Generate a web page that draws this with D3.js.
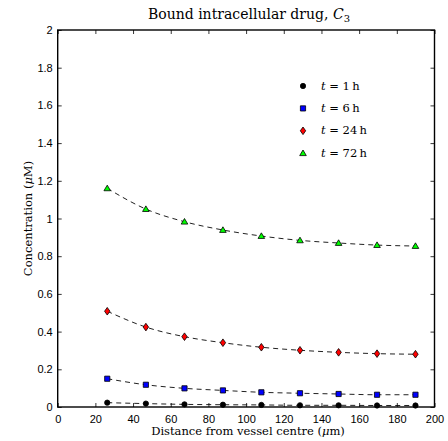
<!DOCTYPE html>
<html>
<head>
<meta charset="utf-8">
<script src="https://cdn.jsdelivr.net/npm/d3@7"></script>
<style>
  html, body { margin: 0; padding: 0; background: #fff; }
  svg { display: block; }
</style>
</head>
<body>
<svg id="chart" width="448" height="441"></svg>
<script>
// Radial distance from the vessel centre (µm)
const distance = [26.3, 46.8, 67.3, 87.7, 108.1, 128.6, 149.1, 169.5, 189.9];

// Bound intracellular drug concentration (µM) at each time point
const c1h  = [0.023, 0.018, 0.014, 0.012, 0.011, 0.009, 0.009, 0.008, 0.008];
const c6h  = [0.150, 0.118, 0.099, 0.088, 0.078, 0.073, 0.069, 0.065, 0.065];
const c24h = [0.508, 0.424, 0.373, 0.341, 0.317, 0.301, 0.290, 0.283, 0.280];
const c72h = [1.160, 1.050, 0.983, 0.939, 0.907, 0.884, 0.870, 0.859, 0.854];

const seriesLabels = ["1", "6", "24", "72"];
const xTicks = [0, 20, 40, 60, 80, 100, 120, 140, 160, 180, 200];
const yTicks = [0, 0.2, 0.4, 0.6, 0.8, 1, 1.2, 1.4, 1.6, 1.8, 2];

const series = [
  { label: seriesLabels[0], values: c1h,  marker: "circle",   fill: "#000000" },
  { label: seriesLabels[1], values: c6h,  marker: "square",   fill: "#0000ff" },
  { label: seriesLabels[2], values: c24h, marker: "diamond",  fill: "#ff0000" },
  { label: seriesLabels[3], values: c72h, marker: "triangle", fill: "#00ff00" }
];

const svg = d3.select("#chart");
const plotLeft = 57.7, plotRight = 434.5, plotTop = 30, plotBottom = 407;

const x = d3.scaleLinear().domain([0, 200]).range([plotLeft, plotRight]);
const y = d3.scaleLinear().domain([0, 2]).range([plotBottom, plotTop]);

const sansFont = "'Liberation Sans', Arial, sans-serif";
const serifFont = "'DejaVu Serif', 'Liberation Serif', serif";

// Marker path generators (small, centred at origin)
function markerPath(kind) {
  switch (kind) {
    case "circle":   return d3.symbol(d3.symbolCircle, 22)();
    case "square":   return "M-2.6,-2.6H2.6V2.6H-2.6Z";
    case "diamond":  return "M0,-3.8L2.7,0L0,3.8L-2.7,0Z";
    case "triangle": return "M0,-3.2L3.3,2.4H-3.3Z";
  }
}

// Dashed fitted curves
const line = d3.line()
  .x((d, i) => x(distance[i]))
  .y(d => y(d))
  .curve(d3.curveMonotoneX);

const plot = svg.append("g");
series.forEach(s => {
  plot.append("path")
    .attr("d", line(s.values))
    .attr("fill", "none")
    .attr("stroke", "#222")
    .attr("stroke-width", 1)
    .attr("stroke-dasharray", "5,4");
});

// Data markers
series.forEach(s => {
  plot.selectAll(null)
    .data(s.values)
    .enter()
    .append("path")
    .attr("d", markerPath(s.marker))
    .attr("transform", (d, i) => `translate(${x(distance[i])},${y(d)})`)
    .attr("fill", s.fill)
    .attr("stroke", "#000")
    .attr("stroke-width", 0.8);
});

// Axes with inward ticks on all four sides
const tickLen = 4;
const fmtY = d => (d === 0 ? "0" : d3.format("~g")(d));

const xAxisBottom = d3.axisBottom(x).tickValues(xTicks).tickSize(-tickLen).tickPadding(8).tickFormat(d3.format("d"));
const xAxisTop = d3.axisTop(x).tickValues(xTicks).tickSize(-tickLen).tickFormat("");
const yAxisLeft = d3.axisLeft(y).tickValues(yTicks).tickSize(-tickLen).tickPadding(5).tickFormat(fmtY);
const yAxisRight = d3.axisRight(y).tickValues(yTicks).tickSize(-tickLen).tickFormat("");

function styleAxis(g) {
  g.select(".domain").remove();
  g.selectAll(".tick line").attr("stroke", "#000").attr("stroke-width", 0.8);
  g.selectAll(".tick text").attr("font-family", sansFont).attr("font-size", 11).attr("fill", "#000");
}

svg.append("g").attr("transform", `translate(0,${plotBottom})`).call(xAxisBottom).call(styleAxis);
svg.append("g").attr("transform", `translate(0,${plotTop})`).call(xAxisTop).call(styleAxis);
svg.append("g").attr("transform", `translate(${plotLeft},0)`).call(yAxisLeft).call(styleAxis);
svg.append("g").attr("transform", `translate(${plotRight},0)`).call(yAxisRight).call(styleAxis);

// Frame
svg.append("rect")
  .attr("x", plotLeft).attr("y", plotTop)
  .attr("width", plotRight - plotLeft).attr("height", plotBottom - plotTop)
  .attr("fill", "none").attr("stroke", "#000").attr("stroke-width", 1.4);

// Title
const title = svg.append("text")
  .attr("x", 249).attr("y", 19)
  .attr("text-anchor", "middle")
  .attr("font-family", serifFont).attr("font-size", 14);
title.append("tspan").text("Bound intracellular drug, ");
title.append("tspan").attr("font-style", "italic").text("C");
title.append("tspan").attr("font-size", 10).attr("dy", 3).text("3");

// Axis labels
const xl = svg.append("text")
  .attr("x", 248).attr("y", 435)
  .attr("text-anchor", "middle")
  .attr("font-family", serifFont).attr("font-size", 11.5);
xl.append("tspan").text("Distance from vessel centre (");
xl.append("tspan").attr("font-style", "italic").text("μ");
xl.append("tspan").text("m)");

const yl = svg.append("text")
  .attr("transform", `translate(32,${(plotTop + plotBottom) / 2}) rotate(-90)`)
  .attr("text-anchor", "middle")
  .attr("font-family", serifFont).attr("font-size", 11.5);
yl.append("tspan").text("Concentration (");
yl.append("tspan").attr("font-style", "italic").text("μ");
yl.append("tspan").text("M)");

// Legend
const legend = svg.append("g");
series.forEach((s, i) => {
  const ly = 86 + i * 22.4;
  legend.append("path")
    .attr("d", markerPath(s.marker))
    .attr("transform", `translate(303,${ly})`)
    .attr("fill", s.fill).attr("stroke", "#000").attr("stroke-width", 0.8);
  const t = legend.append("text")
    .attr("x", 321).attr("y", ly + 3.5)
    .attr("font-family", serifFont).attr("font-size", 11.5);
  t.append("tspan").attr("font-style", "italic").text("t");
  t.append("tspan").text(" = " + s.label + "\u2009h");
});
</script>
</body>
</html>
